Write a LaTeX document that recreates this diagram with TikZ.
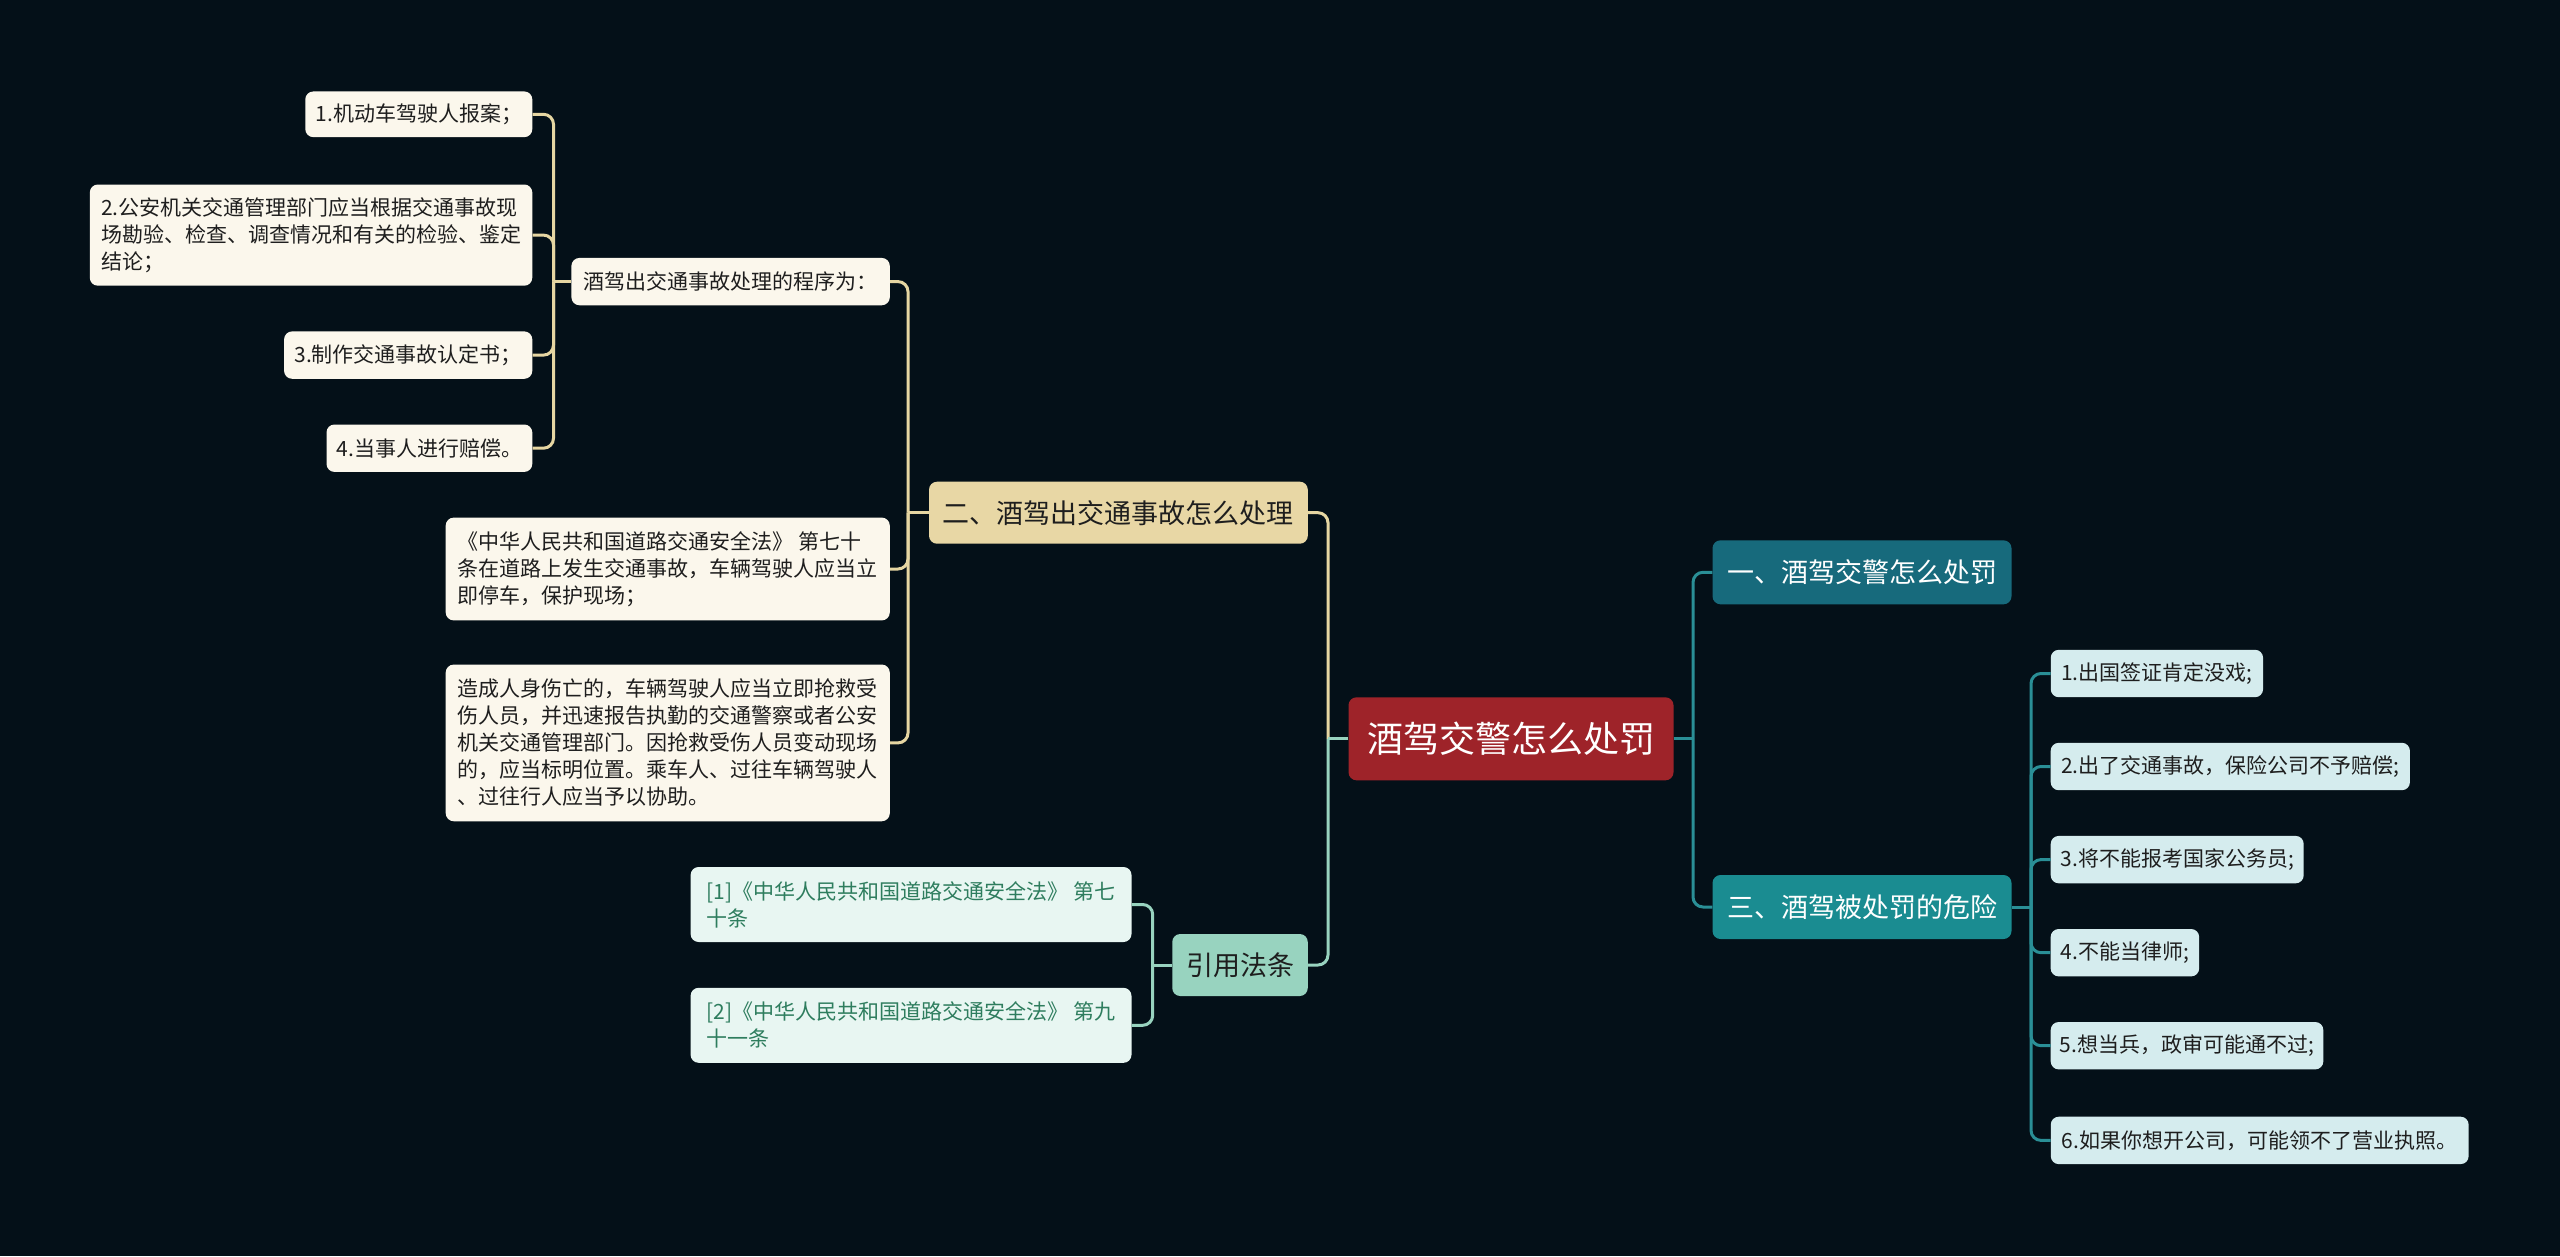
\documentclass[tikz,border=0pt]{standalone}
\usepackage{fontspec}
\setmainfont{Noto Sans CJK SC}
\definecolor{bgc}{HTML}{041018}
\definecolor{rootred}{HTML}{9E2329}
\definecolor{blueone}{HTML}{176A7C}
\definecolor{tealthree}{HTML}{1A8C91}
\definecolor{tealline}{HTML}{2A8F96}
\definecolor{cyanleaf}{HTML}{D5ECEE}
\definecolor{tanbox}{HTML}{E8D7A5}
\definecolor{tanline}{HTML}{E6D6A2}
\definecolor{creamleaf}{HTML}{FBF7EC}
\definecolor{mintbox}{HTML}{98D3BF}
\definecolor{mintline}{HTML}{98D3BF}
\definecolor{citeleaf}{HTML}{E8F6F2}
\definecolor{citetext}{HTML}{2E7D5E}
\definecolor{darktext}{HTML}{1E1E1E}
\begin{document}
\begin{tikzpicture}[x=1pt,y=-1pt,
  box/.style={rounded corners=8pt, inner sep=0pt, align=left},
  rootbox/.style={box, fill=rootred, text=white, align=center, font=\fontsize{36}{40}\selectfont},
  mainbox/.style={box, text=white, align=center, font=\fontsize{27}{32}\selectfont},
  subbox/.style={box, text=darktext, align=center, font=\fontsize{27}{32}\selectfont},
  cyanbox/.style={box, fill=cyanleaf, text=darktext, font=\fontsize{21}{27}\selectfont},
  creambox/.style={box, fill=creamleaf, text=darktext, font=\fontsize{21}{27}\selectfont},
  citebox/.style={box, fill=citeleaf, text=citetext, font=\fontsize{21}{27}\selectfont},
  conn/.style={line width=3pt, rounded corners=10pt},
]
\fill[bgc] (0,0) rectangle (2560,1256);
\useasboundingbox (0,0) rectangle (2560,1256);

% root
\node[rootbox, minimum width=325pt, minimum height=83pt] (root) at (1511,738.8) {酒驾交警怎么处罚};

% right side
\node[mainbox, fill=blueone, minimum width=299pt, minimum height=64pt] (one) at (1862,572.3) {一、酒驾交警怎么处罚};
\node[mainbox, fill=tealthree, minimum width=299pt, minimum height=64pt] (three) at (1862,907) {三、酒驾被处罚的危险};

\node[cyanbox, minimum width=212.3pt, minimum height=47.4pt] (r1) at (2156.9,673.5) {1.出国签证肯定没戏;};
\node[cyanbox, minimum width=359.2pt, minimum height=47.4pt] (r2) at (2230.3,766.5) {2.出了交通事故，保险公司不予赔偿;};
\node[cyanbox, minimum width=253pt, minimum height=47.4pt] (r3) at (2177.2,859.6) {3.将不能报考国家公务员;};
\node[cyanbox, minimum width=148.5pt, minimum height=47.4pt] (r4) at (2124.9,952.7) {4.不能当律师;};
\node[cyanbox, minimum width=272.6pt, minimum height=47.4pt] (r5) at (2187,1045.7) {5.想当兵，政审可能通不过;};
\node[cyanbox, minimum width=417.9pt, minimum height=47.4pt] (r6) at (2259.7,1140.4) {6.如果你想开公司，可能领不了营业执照。};

% left side
\node[subbox, fill=tanbox, minimum width=378.8pt, minimum height=62pt] (two) at (1118.4,512.7) {二、酒驾出交通事故怎么处理};
\node[subbox, fill=mintbox, minimum width=135.5pt, minimum height=62pt] (cite) at (1240,965) {引用法条};

\node[creambox, minimum width=318.4pt, minimum height=47.3pt] (proc) at (730.6,281.6) {酒驾出交通事故处理的程序为：};
\node[creambox, minimum width=444.1pt, minimum height=102.8pt] (law) at (667.75,569) {《中华人民共和国道路交通安全法》~第七十\\条在道路上发生交通事故，车辆驾驶人应当立\\即停车，保护现场；};
\node[creambox, minimum width=444.1pt, minimum height=156.7pt] (hurt) at (667.75,742.9) {造成人身伤亡的，车辆驾驶人应当立即抢救受\\伤人员，并迅速报告执勤的交通警察或者公安\\机关交通管理部门。因抢救受伤人员变动现场\\的，应当标明位置。乘车人、过往车辆驾驶人\\、过往行人应当予以协助。};

\node[creambox, minimum width=227pt, minimum height=45.7pt] (p1) at (418.8,114.3) {1.机动车驾驶人报案；};
\node[creambox, minimum width=442.5pt, minimum height=101.2pt] (p2) at (311.05,235.1) {2.公安机关交通管理部门应当根据交通事故现\\场勘验、检查、调查情况和有关的检验、鉴定\\结论；};
\node[creambox, minimum width=248.2pt, minimum height=47.4pt] (p3) at (408.2,355.1) {3.制作交通事故认定书；};
\node[creambox, minimum width=205.8pt, minimum height=47.4pt] (p4) at (429.4,448.2) {4.当事人进行赔偿。};

\node[citebox, minimum width=440.9pt, minimum height=75pt] (c1) at (911.05,904.5) {[1]《中华人民共和国道路交通安全法》~第七\\十条};
\node[citebox, minimum width=440.9pt, minimum height=75pt] (c2) at (911.05,1025.3) {[2]《中华人民共和国道路交通安全法》~第九\\十一条};

% junction coordinates
\coordinate (jr) at (1693,738.8);
\coordinate (jthree) at (2031,907);
\coordinate (jl) at (1328,738.8);
\coordinate (jtwo) at (908,512.7);
\coordinate (jproc) at (553.5,281.6);
\coordinate (jcite) at (1152.7,965);

% connectors right
\draw[conn, tealline] (root.east) -- (jr);
\draw[conn, tealline] (jr) |- (one.west);
\draw[conn, tealline] (jr) |- (three.west);
\draw[conn, tealline] (three.east) -- (jthree);
\foreach \n in {r1,r2,r3,r4,r5,r6} \draw[conn, tealline] (jthree) |- (\n.west);

% connectors left
\draw[conn, tanline] (jl) |- (two.east);
\draw[conn, mintline] (root.west) -- (jl);
\draw[conn, mintline] (jl) |- (cite.east);

\draw[conn, tanline] (two.west) -- (jtwo);
\foreach \n in {proc,law,hurt} \draw[conn, tanline] (jtwo) |- (\n.east);
\draw[conn, tanline] (proc.west) -- (jproc);
\foreach \n in {p1,p2,p3,p4} \draw[conn, tanline] (jproc) |- (\n.east);

\draw[conn, mintline] (cite.west) -- (jcite);
\foreach \n in {c1,c2} \draw[conn, mintline] (jcite) |- (\n.east);
\end{tikzpicture}
\end{document}
